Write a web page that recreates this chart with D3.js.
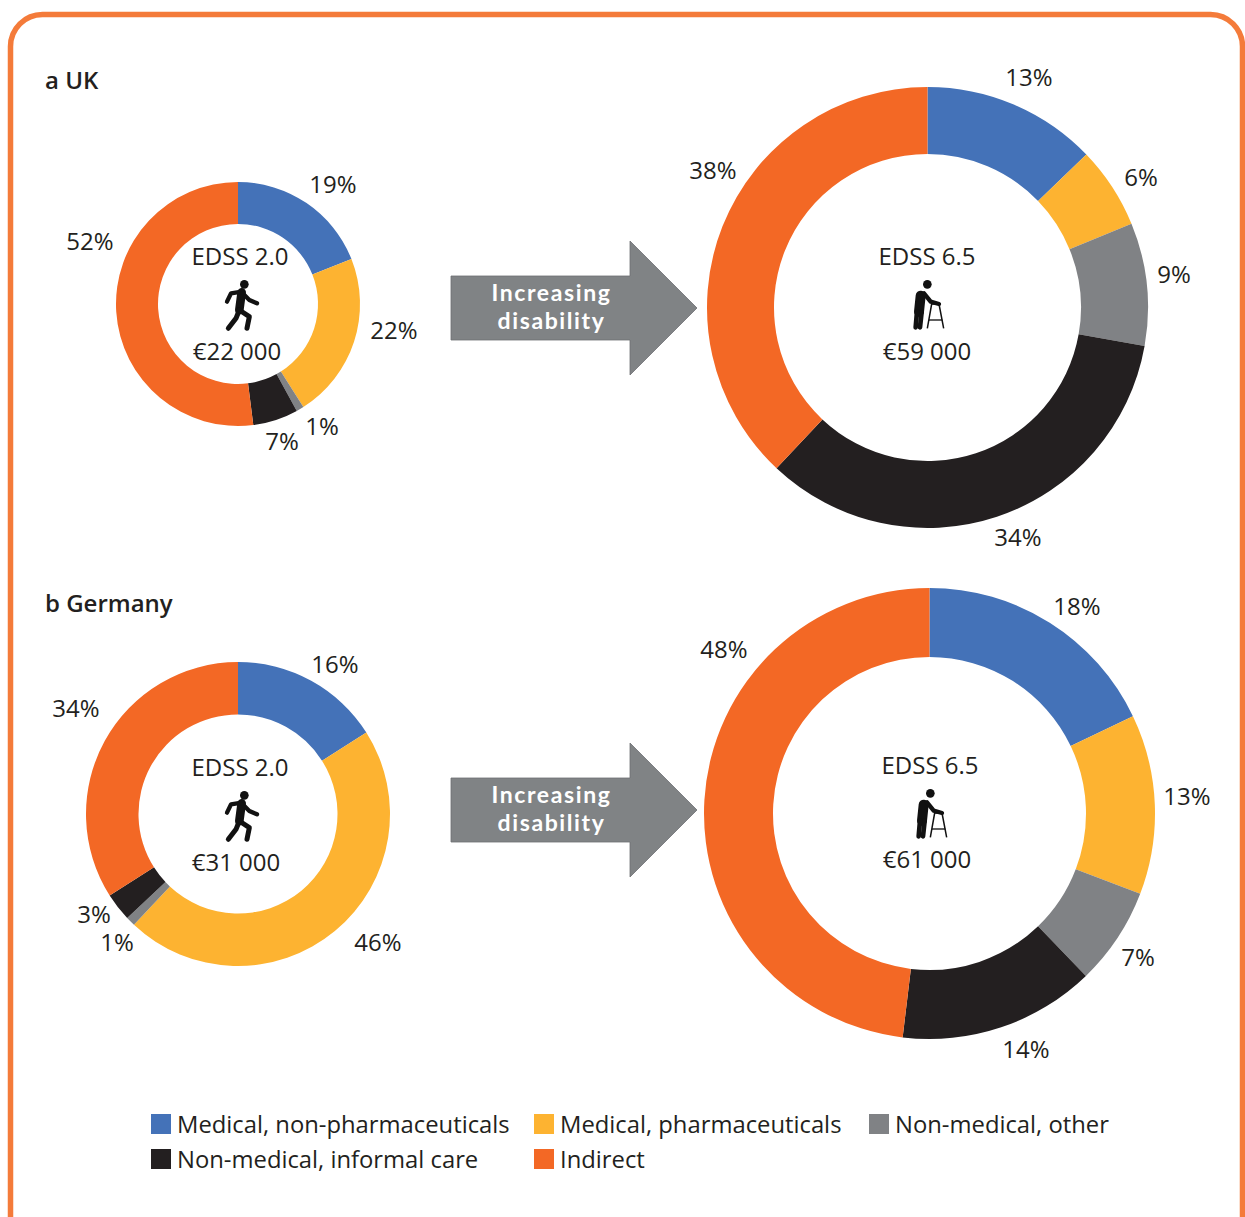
<!DOCTYPE html>
<html><head><meta charset="utf-8">
<script src="https://cdnjs.cloudflare.com/ajax/libs/d3/7.8.5/d3.min.js"></script>
<style>html,body{margin:0;background:#fff}svg{display:block}text{font-family:"Open Sans",sans-serif;fill:#231f20}</style>
</head><body><svg id="c" width="1245" height="1217"></svg>
<script>
const categories = ["Medical, non-pharmaceuticals","Medical, pharmaceuticals","Non-medical, other","Non-medical, informal care","Indirect"];
const ukMildValues = [19,22,1,6,52];
const ukSevereValues = [12.8,6,9,34.2,38];
const deMildValues = [16,46,1,3,34];
const deSevereValues = [17.9,12.9,7,14.1,48.1];
const ukMildLabels = ["19%","22%","1%","7%","52%"];
const ukSevereLabels = ["13%","6%","9%","34%","38%"];
const deMildLabels = ["16%","46%","1%","3%","34%"];
const deSevereLabels = ["18%","13%","7%","14%","48%"];
const colors = ["#4472b8","#fdb331","#808285","#231f20","#f36825"];

const layout = [
 {v:ukMildValues,l:ukMildLabels,c:[238,304],r:[80,122],edss:"EDSS 2.0",cost:"€22 000",icon:"walk",t:[[240,255],[241,305],[237,350]],
  pos:[[333,183],[394,329],[322,425],[282,440],[90,240]]},
 {v:ukSevereValues,l:ukSevereLabels,c:[927.5,307.5],r:[153.5,220.5],edss:"EDSS 6.5",cost:"€59 000",icon:"frame",t:[[927,255],[929,305],[927,350]],
  pos:[[1029,76],[1141,176],[1174,273],[1018,536],[713,169]]},
 {v:deMildValues,l:deMildLabels,c:[238,814],r:[99.5,152],edss:"EDSS 2.0",cost:"€31 000",icon:"walk",t:[[240,766],[241,816],[236,861]],
  pos:[[335,663],[378,941],[117,941],[94,913],[76,707]]},
 {v:deSevereValues,l:deSevereLabels,c:[929.5,813.5],r:[156.5,225.5],edss:"EDSS 6.5",cost:"€61 000",icon:"frame",t:[[930,764],[932,814],[927,858]],
  pos:[[1077,605],[1187,795],[1138,956],[1026,1048],[724,648]]}
];
const FS = 24;
const svg = d3.select("#c");
svg.append("rect").attr("x",10.5).attr("y",14.5).attr("width",1232).attr("height",1300).attr("rx",32)
  .attr("fill","#fff").attr("stroke","#f47b3a").attr("stroke-width",5.5);

const label=(g,x,y,s,o={})=>g.append("text").attr("x",x).attr("y",y).attr("text-anchor",o.anchor||"middle")
  .attr("dominant-baseline","central").attr("font-size",o.size||FS).attr("font-weight",o.weight||400)
  .style("fill",o.fill||"#231f20").text(s);

label(svg,45,79,"a UK",{anchor:"start",weight:600,size:24});
label(svg,45,602,"b Germany",{anchor:"start",weight:600,size:24});

const pie=d3.pie().sort(null).startAngle(0).endAngle(2*Math.PI);
const icons={
 walk(g){
  g.append("circle").attr("cx",10).attr("cy",-62).attr("r",13).attr("fill","#111");
  const line=(p,w)=>g.append("path").attr("d",d3.line()(p)).attr("fill","none").attr("stroke","#111").attr("stroke-width",w).attr("stroke-linecap","round").attr("stroke-linejoin","round");
  line([[2,-38],[-5,15]],26);
  line([[2,-40],[-30,-35],[-42,-10]],13);
  line([[5,-35],[25,-15],[48,-5]],13);
  line([[-5,15],[-15,40],[-38,70]],15);
  line([[-5,15],[25,35],[18,70]],15);
 },
 frame(g){
  g.append("circle").attr("cx",-5).attr("cy",-62).attr("r",13).attr("fill","#111");
  const line=(p,w,c)=>g.append("path").attr("d",d3.line()(p)).attr("fill","none").attr("stroke","#111").attr("stroke-width",w).attr("stroke-linecap",c||"round").attr("stroke-linejoin","round");
  line([[-25,-28],[-30,20]],30);
  line([[-36,20],[-40,67]],14);
  line([[-22,20],[-27,67]],14);
  line([[-15,-35],[5,-10],[30,-3]],13);
  line([[-5,70],[8,-3],[30,-3],[44,70]],4.5,"butt");
  line([[0,45],[40,45]],4,"butt");
 }
};
layout.forEach(p=>{
  const g=svg.append("g").attr("transform",`translate(${p.c})`);
  const arc=d3.arc().innerRadius(p.r[0]).outerRadius(p.r[1]);
  g.selectAll("path").data(pie(p.v)).join("path").attr("d",arc).attr("fill",(d,i)=>colors[i]);
  p.l.forEach((s,i)=>label(svg,p.pos[i][0],p.pos[i][1],s));
  label(svg,p.t[0][0],p.t[0][1],p.edss);
  label(svg,p.t[2][0],p.t[2][1],p.cost);
  icons[p.icon](svg.append("g").attr("transform",`translate(${p.t[1]}) scale(0.3333)`));
});

[[276,340,241,375,308,292,320],[778,842,743,877,810,794,822]].forEach(a=>{
  svg.append("path").attr("d",d3.line()([[451,a[0]],[630,a[0]],[630,a[2]],[697,a[4]],[630,a[3]],[630,a[1]],[451,a[1]]])+"Z").attr("fill","#808385").attr("stroke","#6d6f72").attr("stroke-width",.8);
  ["Increasing","disability"].forEach((s,i)=>{
    label(svg,551.5,a[5+i],s,{fill:"#fff",weight:700,size:23}).style("font-family","Lato, sans-serif").style("letter-spacing","1.6px");
  });
});

const legendPos=[[151,1114],[534,1114],[869,1114],[151,1149],[534,1149]];
categories.forEach((c,i)=>{
  const [x,y]=legendPos[i];
  svg.append("rect").attr("x",x).attr("y",y).attr("width",20).attr("height",20).attr("fill",colors[i]);
  label(svg,x+26,y+9.5,c,{anchor:"start",size:23.8});
});
</script></body></html>
